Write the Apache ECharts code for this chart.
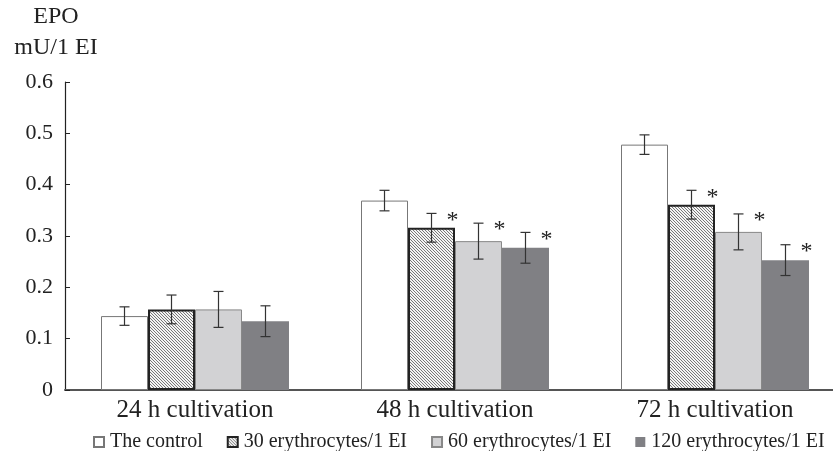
<!DOCTYPE html>
<html>
<head>
<meta charset="utf-8">
<script src="https://cdn.jsdelivr.net/npm/echarts@6/dist/echarts.min.js"></script>
<style>
  html, body { margin: 0; padding: 0; background: #fff; }
  #chart { width: 833px; height: 451px; }
</style>
</head>
<body>
<div id="chart"></div>
<script>
// categories and values
const groups = ['24 h cultivation', '48 h cultivation', '72 h cultivation']
const seriesNames = ['The control', '30 erythrocytes/1 EI', '60 erythrocytes/1 EI', '120 erythrocytes/1 EI']
const controlVals = [0.144, 0.369, 0.478]
const ery30Vals = [0.157, 0.316, 0.361]
const ery60Vals = [0.157, 0.290, 0.308]
const ery120Vals = [0.134, 0.277, 0.253]
// half-width of the error bars
const controlErr = [0.018, 0.020, 0.019]
const ery30Err = [0.028, 0.028, 0.028]
const ery60Err = [0.035, 0.035, 0.035]
const ery120Err = [0.030, 0.030, 0.030]
// significance marks (*)
const controlSig = [false, false, false]
const ery30Sig = [false, true, true]
const ery60Sig = [false, true, true]
const ery120Sig = [false, true, true]
const yTicks = [0, 0.1, 0.2, 0.3, 0.4, 0.5, 0.6]

const font = '"Liberation Serif", "DejaVu Serif", serif'
const gapPct = 27.7

// hatch pattern for the 30 erythrocytes bars
function hatch () {
  const c = document.createElement('canvas')
  c.width = 3
  c.height = 3
  const ctx = c.getContext('2d')
  ctx.fillStyle = '#f4f4f4'
  ctx.fillRect(0, 0, 3, 3)
  ctx.strokeStyle = '#6a6a6a'
  ctx.lineWidth = 0.9
  ctx.beginPath()
  ctx.moveTo(-1, -1); ctx.lineTo(4, 4)
  ctx.moveTo(-1, 2); ctx.lineTo(2, 5)
  ctx.moveTo(2, -1); ctx.lineTo(5, 2)
  ctx.stroke()
  return c
}

const vals = [controlVals, ery30Vals, ery60Vals, ery120Vals]
const errs = [controlErr, ery30Err, ery60Err, ery120Err]
const sigs = [controlSig, ery30Sig, ery60Sig, ery120Sig]
const styles = [
  { color: '#ffffff', borderColor: '#777', borderWidth: 1 },
  { color: { image: hatch(), repeat: 'repeat' }, borderColor: '#222', borderWidth: 2 },
  { color: '#d2d2d4', borderColor: '#888', borderWidth: 1 },
  { color: '#808084', borderColor: '#808084', borderWidth: 0 }
]

const series = []
seriesNames.forEach((name, i) => {
  series.push({
    name: name,
    type: 'bar',
    barGap: 0,
    barCategoryGap: gapPct + '%',
    itemStyle: styles[i],
    data: vals[i]
  })
})

// error bars and asterisks
const errData = []
vals.forEach((arr, i) => {
  arr.forEach((v, j) => {
    errData.push([j, v, errs[i][j], i, sigs[i][j] ? 1 : 0])
  })
})
series.push({
  type: 'custom',
  name: 'err',
  z: 10,
  renderItem: function (params, api) {
    const cat = api.value(0)
    const v = api.value(1)
    const e = api.value(2)
    const idx = api.value(3)
    const band = api.size([1, 0])[0]
    const bw = band * (1 - gapPct / 100) / 4
    const xc = api.coord([cat, 0])[0] + (idx - 1.5) * bw
    const top = api.coord([cat, v + e])[1]
    const bot = api.coord([cat, v - e])[1]
    const st = { stroke: '#333', lineWidth: 1.2 }
    const children = [
      { type: 'line', shape: { x1: xc, y1: top, x2: xc, y2: bot }, style: st },
      { type: 'line', shape: { x1: xc - 5, y1: top, x2: xc + 5, y2: top }, style: st },
      { type: 'line', shape: { x1: xc - 5, y1: bot, x2: xc + 5, y2: bot }, style: st }
    ]
    if (api.value(4)) {
      children.push({
        type: 'text',
        style: {
          text: '*', x: xc + 21, y: top + 7, fill: '#222',
          font: '24px ' + font, align: 'center', verticalAlign: 'middle'
        }
      })
    }
    return { type: 'group', children: children }
  },
  data: errData
})

const chart = echarts.init(document.getElementById('chart'))
chart.setOption({
  animation: false,
  graphic: [
    { type: 'text', x: 56, y: 17, style: { text: 'EPO', font: '24px ' + font, fill: '#222', align: 'center', verticalAlign: 'middle' } },
    { type: 'text', x: 56, y: 48, style: { text: 'mU/1 EI', font: '24px ' + font, fill: '#222', align: 'center', verticalAlign: 'middle' } }
  ],
  legend: {
    data: seriesNames,
    left: 93,
    top: 432,
    padding: 0,
    icon: 'rect',
    itemWidth: 10,
    itemHeight: 10,
    itemGap: 24,
    textStyle: { fontFamily: font, fontSize: 20, color: '#222', padding: [0, 0, 0, 1] }
  },
  grid: { left: 65, top: 82, bottom: 61, width: 780, containLabel: false, outerBoundsMode: 'none' },
  xAxis: {
    type: 'category',
    data: groups,
    axisLine: { lineStyle: { color: '#555', width: 2 } },
    axisTick: { show: false },
    axisLabel: { fontFamily: font, fontSize: 25, color: '#222', margin: 8 }
  },
  yAxis: {
    type: 'value',
    min: yTicks[0],
    max: yTicks[yTicks.length - 1],
    interval: 0.1,
    splitLine: { show: false },
    axisLine: { show: true, lineStyle: { color: '#222', width: 1.2 } },
    axisTick: { show: true, inside: true, length: 5, lineStyle: { color: '#222' } },
    axisLabel: {
      fontFamily: font, fontSize: 22, color: '#222', margin: 12,
      formatter: v => (v === 0 ? '0' : v.toFixed(1))
    }
  },
  series: series
})
</script>
</body>
</html>
